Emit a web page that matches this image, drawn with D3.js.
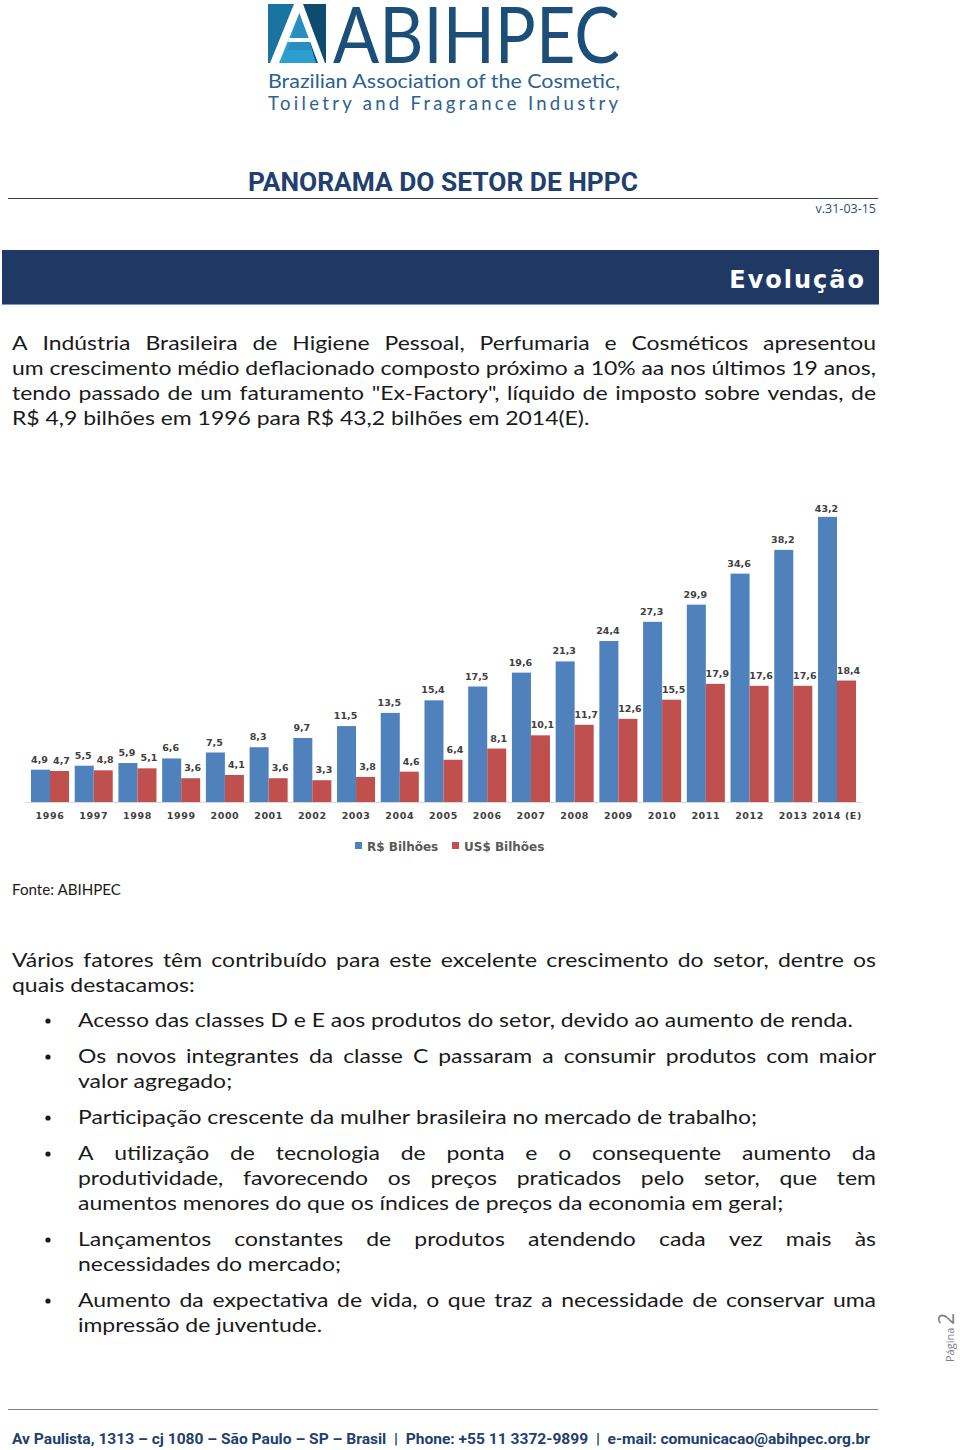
<!DOCTYPE html>
<html><head><meta charset="utf-8">
<script src="https://cdn.jsdelivr.net/npm/d3@7"></script>
<style>
html,body{margin:0;padding:0;background:#fff;}
svg{display:block;}
</style></head>
<body>
<svg id="page" width="960" height="1450"></svg>
<script>
// ---------- DATA ----------
const years = ["1996","1997","1998","1999","2000","2001","2002","2003","2004","2005","2006","2007","2008","2009","2010","2011","2012","2013","2014 (E)"];
const brlValues = [4.9,5.5,5.9,6.6,7.5,8.3,9.7,11.5,13.5,15.4,17.5,19.6,21.3,24.4,27.3,29.9,34.6,38.2,43.2];
const usdValues = [4.7,4.8,5.1,3.6,4.1,3.6,3.3,3.8,4.6,6.4,8.1,10.1,11.7,12.6,15.5,17.9,17.6,17.6,18.4];
const seriesNames = ["R$ Bilhões","US$ Bilhões"];
const seriesColors = ["#4F81BD","#C0504D"];

const intro = [
  "A Indústria Brasileira de Higiene Pessoal, Perfumaria e Cosméticos apresentou",
  "um crescimento médio deflacionado composto próximo a 10% aa nos últimos 19 anos,",
  "tendo passado de um faturamento \"Ex-Factory\", líquido de imposto sobre vendas, de",
  "R$ 4,9 bilhões em 1996 para R$ 43,2 bilhões em 2014(E)."
];
const factorsIntro = [
  "Vários fatores têm contribuído para este excelente crescimento do setor, dentre os",
  "quais destacamos:"
];
const bullets = [
  ["Acesso das classes D e E aos produtos do setor, devido ao aumento de renda."],
  ["Os novos integrantes da classe C passaram a consumir produtos com maior","valor agregado;"],
  ["Participação crescente da mulher brasileira no mercado de trabalho;"],
  ["A utilização de tecnologia de ponta e o consequente aumento da","produtividade, favorecendo os preços praticados pelo setor, que tem","aumentos menores do que os índices de preços da economia em geral;"],
  ["Lançamentos constantes de produtos atendendo cada vez mais às","necessidades do mercado;"],
  ["Aumento da expectativa de vida, o que traz a necessidade de conservar uma","impressão de juventude."]
];

// ---------- PAGE ----------
const svg = d3.select("#page");
const bodyFont = "Lato, 'DejaVu Sans', sans-serif";

// Logo icon
const logo = svg.append("g");
logo.append("rect").attr("x",268).attr("y",4).attr("width",58).attr("height",59).attr("fill","#0f4a6f");
logo.append("polygon").attr("points","268,4 294,4 270,63 268,63").attr("fill","#1a74a0");
logo.append("polygon").attr("points","300,10 316,63 276,63").attr("fill","#2b9fd0");
logo.append("polygon").attr("points","300,10 312,50 288,50").attr("fill","#2a8dbf");
logo.append("polygon").attr("points","294,4 303,4 279,63 270,63").attr("fill","#fff");
logo.append("polygon").attr("points","296,4 303,4 325,63 318,63").attr("fill","#fff");
logo.append("polygon").attr("points","289,38 313,38 314,42 288,42").attr("fill","#fff");

logo.append("text").attr("x",333).attr("y",63).attr("textLength",287).attr("lengthAdjust","spacingAndGlyphs")
  .attr("font-family","Lato, 'Open Sans', sans-serif").attr("font-weight",400).attr("font-size",77)
  .attr("fill","#1b4e79").text("ABIHPEC");
logo.append("text").attr("x",268).attr("y",88).attr("textLength",352).attr("lengthAdjust","spacingAndGlyphs")
  .attr("font-family","Lato, sans-serif").attr("font-size",18.5).attr("fill","#2c6290").text("Brazilian Association of the Cosmetic,");
logo.append("text").attr("x",268).attr("y",110).attr("textLength",350).attr("lengthAdjust","spacing")
  .attr("font-family","Lato, sans-serif").attr("font-size",18.5).attr("fill","#2c6290").text("Toiletry and Fragrance Industry");

// Title
svg.append("text").attr("x",248).attr("y",191).attr("textLength",390).attr("lengthAdjust","spacingAndGlyphs")
  .attr("font-family","Roboto, 'Open Sans', sans-serif").attr("font-weight",700).attr("font-size",25)
  .attr("fill","#21406f").text("PANORAMA DO SETOR DE HPPC");
svg.append("line").attr("x1",8).attr("x2",878).attr("y1",198.5).attr("y2",198.5).attr("stroke","#404040").attr("stroke-width",1);
svg.append("text").attr("x",876).attr("y",213).attr("text-anchor","end")
  .attr("font-family","'Open Sans', sans-serif").attr("font-size",12.5).attr("fill","#2b4d7d").text("v.31-03-15");

// Banner
svg.append("rect").attr("x",2).attr("y",250).attr("width",877).attr("height",54).attr("fill","#203864");
svg.append("line").attr("x1",2).attr("x2",879).attr("y1",304.5).attr("y2",304.5).attr("stroke","#8497b0").attr("stroke-width",1);
svg.append("text").attr("x",866).attr("y",288).attr("text-anchor","end")
  .attr("font-family","'DejaVu Sans', sans-serif").attr("font-weight",700).attr("font-size",24)
  .attr("letter-spacing",2).attr("fill","#fff").text("Evolução");

// ---------- text layout helper ----------
const measurer = svg.append("text").attr("font-family",bodyFont).attr("font-size",20).attr("visibility","hidden");
function measure(t){ measurer.text(t); return measurer.node().getComputedTextLength(); }
const spaceW = measure("a a") - measure("aa");
const scaleS = 775 / measure(bullets[0][0]);

function drawLine(text, x0, x1, y, justify){
  const words = text.split(" ");
  const ws = words.map(w => measure(w) * scaleS);
  const sum = d3.sum(ws);
  const gap = (justify && words.length > 1) ? (x1 - x0 - sum) / (words.length - 1) : spaceW * scaleS;
  let x = x0;
  const g = svg.append("g");
  words.forEach((w,i) => {
    g.append("text").attr("x",x).attr("y",y).attr("textLength",ws[i]).attr("lengthAdjust","spacingAndGlyphs")
      .attr("font-family",bodyFont).attr("font-size",20).attr("fill","#1a1a1a").text(w);
    x += ws[i] + gap;
  });
}

intro.forEach((t,i) => drawLine(t, 12, 876, 350 + i*25, i < intro.length-1));

// ---------- CHART ----------
const x0 = d3.scaleBand().domain(years).range([25.3, 861.7]).paddingInner(0.13).paddingOuter(0.13);
const x1 = d3.scaleBand().domain(seriesNames).range([0, x0.bandwidth()]);
const y = d3.scaleLinear().domain([0, 45]).range([802, 505]);
const fmt = v => d3.format(".1f")(v).replace(".", ",");

const chart = svg.append("g");
chart.append("line").attr("x1",25).attr("x2",862).attr("y1",802.5).attr("y2",802.5).attr("stroke","#d9d9d9");

const groups = chart.selectAll("g.grp").data(years.map((yr,i)=>({yr, vals:[brlValues[i], usdValues[i]]})))
  .join("g").attr("class","grp").attr("transform", d => `translate(${x0(d.yr)},0)`);
groups.selectAll("rect").data(d => d.vals.map((v,j)=>({v, s:seriesNames[j], j})))
  .join("rect")
  .attr("x", d => x1(d.s)).attr("width", x1.bandwidth())
  .attr("y", d => y(d.v)).attr("height", d => y(0) - y(d.v))
  .attr("fill", d => seriesColors[d.j]);
groups.selectAll("text.val").data(d => d.vals.map((v,j)=>({v, s:seriesNames[j], j})))
  .join("text").attr("class","val")
  .attr("x", d => x1(d.s) + x1.bandwidth()/2 + (d.j===1 ? 2 : -1))
  .attr("y", d => Math.max(y(d.v) - 7, 512))
  .attr("text-anchor","middle")
  .attr("font-family","'DejaVu Sans', sans-serif").attr("font-weight",700).attr("font-size",9.5)
  .attr("fill","#404040").text(d => fmt(d.v));

const xAxis = chart.append("g").attr("transform","translate(0,802)")
  .call(d3.axisBottom(x0).tickSize(0).tickPadding(10));
xAxis.select(".domain").remove();
xAxis.selectAll("text").attr("font-family","'DejaVu Sans', sans-serif").attr("font-weight",700)
  .attr("font-size",9.5).attr("fill","#404040").attr("letter-spacing",0.6);

// Legend
const legend = svg.append("g");
const legX = [355, 452];
seriesNames.forEach((n,i) => {
  legend.append("rect").attr("x",legX[i]).attr("y",842).attr("width",7).attr("height",7).attr("fill",seriesColors[i]);
  legend.append("text").attr("x",legX[i]+12).attr("y",851)
    .attr("font-family","'DejaVu Sans', sans-serif").attr("font-weight",700).attr("font-size",12)
    .attr("fill","#595959").text(n);
});

// Source
svg.append("text").attr("x",12).attr("y",895).attr("textLength",109).attr("lengthAdjust","spacingAndGlyphs")
  .attr("font-family",bodyFont).attr("font-size",15).attr("fill","#1a1a1a").text("Fonte: ABIHPEC");

factorsIntro.forEach((t,i) => drawLine(t, 12, 876, 967 + i*25, i < factorsIntro.length-1));

const bulletStarts = [1027, 1063, 1124, 1160, 1246, 1307];
bullets.forEach((lines, bi) => {
  const by = bulletStarts[bi];
  svg.append("circle").attr("cx",48).attr("cy",by-6).attr("r",2.6).attr("fill","#1a1a1a");
  lines.forEach((t,li) => drawLine(t, 78, 876, by + li*25, li < lines.length-1));
});

// Page number
const pg = svg.append("g").attr("transform","translate(954,1362) rotate(-90)");
pg.append("text").attr("x",0).attr("y",0).attr("font-family","'Open Sans', sans-serif").attr("fill","#7f7f7f")
  .call(t => { t.append("tspan").attr("font-size",11).text("Página "); t.append("tspan").attr("font-size",21).text("2"); });

// Footer
svg.append("line").attr("x1",8).attr("x2",878).attr("y1",1409.5).attr("y2",1409.5).attr("stroke","#7f7f7f").attr("stroke-width",1);
svg.append("text").attr("x",12).attr("y",1444).attr("textLength",858).attr("lengthAdjust","spacingAndGlyphs")
  .attr("font-family","Roboto, sans-serif").attr("font-weight",700).attr("font-size",14.5).attr("fill","#21406f")
  .attr("xml:space","preserve")
  .text("Av Paulista, 1313 – cj 1080 – São Paulo – SP – Brasil  |  Phone: +55 11 3372-9899  |  e-mail: comunicacao@abihpec.org.br");
</script>
</body></html>
